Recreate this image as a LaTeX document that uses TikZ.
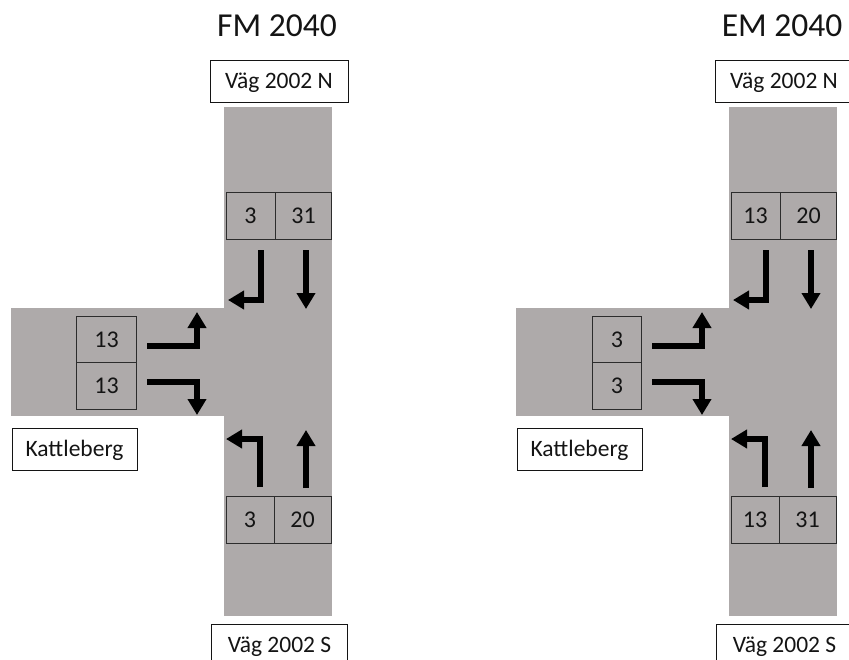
\documentclass[tikz,border=0pt]{standalone}
\usepackage{fontspec}
\setmainfont{Carlito}
\usetikzlibrary{arrows.meta}
\definecolor{roadgray}{RGB}{174,170,170}
\definecolor{ink}{RGB}{20,20,20}
\tikzset{
  roadfill/.style={fill=roadgray,draw=none},
  lanebox/.style={draw=ink!90,line width=0.9pt,fill=roadgray,inner sep=0pt,
    font=\fontsize{24}{24}\selectfont,text=ink,text height=15pt,text depth=0pt},
  namebox/.style={draw=ink,line width=0.9pt,fill=white,inner sep=0pt,
    font=\fontsize{23.5}{23.5}\selectfont,text=ink,text height=14.8pt,text depth=0pt,
    minimum height=42pt},
  titletext/.style={font=\fontsize{33.5}{33.5}\selectfont,text=ink,inner sep=0pt,
    text height=21.3pt,text depth=0pt},
  flowarrow/.style={line width=5.2pt,draw=black,line join=miter,
    -{Triangle[length=16pt,width=18pt]}}
}
% #1 prefix, #2 title, #3 top-left, #4 top-right, #5 west-top, #6 west-bottom,
% #7 bottom-left, #8 bottom-right, #9 west box width
\newcommand\junctiondiagram[9]{%
  \fill[roadfill] (224,107) rectangle (332,616);
  \fill[roadfill] (11,308) rectangle (224,416);
  \node[titletext] (#1title) at (277,26) {#2};
  \node[namebox,minimum width=138pt] (#1north) at (279,81) {Väg 2002 N};
  \node[namebox,minimum width=136pt] (#1south) at (279.5,645) {Väg 2002 S};
  \node[namebox,minimum width=125pt] (#1west) at (74.5,449) {Kattleberg};
  \node[lanebox,minimum width=49pt,minimum height=46.5pt] (#1tl) at (250.5,216) {#3};
  \node[lanebox,minimum width=56.5pt,minimum height=46.5pt] (#1tr) at (303.5,216) {#4};
  \node[lanebox,minimum width=#9,minimum height=46.5pt,anchor=east] (#1wt) at (137,339.5) {#5};
  \node[lanebox,minimum width=#9,minimum height=46.5pt,anchor=east] (#1wb) at (137,386) {#6};
  \node[lanebox,minimum width=48pt,minimum height=46.5pt] (#1bl) at (250,520) {#7};
  \node[lanebox,minimum width=57pt,minimum height=46.5pt] (#1br) at (302.5,520) {#8};
  % arrow coordinates
  \coordinate (#1a1s) at (261,250); \coordinate (#1a1c) at (261,300); \coordinate (#1a1e) at (228,300);
  \coordinate (#1a2s) at (306,250); \coordinate (#1a2e) at (306,309);
  \coordinate (#1a3s) at (147,346); \coordinate (#1a3c) at (197,346); \coordinate (#1a3e) at (197,312);
  \coordinate (#1a4s) at (147,382); \coordinate (#1a4c) at (197,382); \coordinate (#1a4e) at (197,415);
  \coordinate (#1a5s) at (260,487); \coordinate (#1a5c) at (260,439); \coordinate (#1a5e) at (226,439);
  \coordinate (#1a6s) at (306,488); \coordinate (#1a6e) at (306,430);
  \draw[flowarrow] (#1a1s) -- (#1a1c) -- (#1a1e);
  \draw[flowarrow] (#1a2s) -- (#1a2e);
  \draw[flowarrow] (#1a3s) -- (#1a3c) -- (#1a3e);
  \draw[flowarrow] (#1a4s) -- (#1a4c) -- (#1a4e);
  \draw[flowarrow] (#1a5s) -- (#1a5c) -- (#1a5e);
  \draw[flowarrow] (#1a6s) -- (#1a6e);
}
\begin{document}
\begin{tikzpicture}[x=1pt,y=-1pt]
  \useasboundingbox (0,0) rectangle (849,659);
  \clip (0,0) rectangle (849,659);
  \fill[white] (0,0) rectangle (849,659);
  \begin{scope}
    \junctiondiagram{L}{FM 2040}{3}{31}{13}{13}{3}{20}{60pt}
  \end{scope}
  \begin{scope}[xshift=505pt]
    \junctiondiagram{R}{EM 2040}{13}{20}{3}{3}{13}{31}{49pt}
  \end{scope}
\end{tikzpicture}
\end{document}
